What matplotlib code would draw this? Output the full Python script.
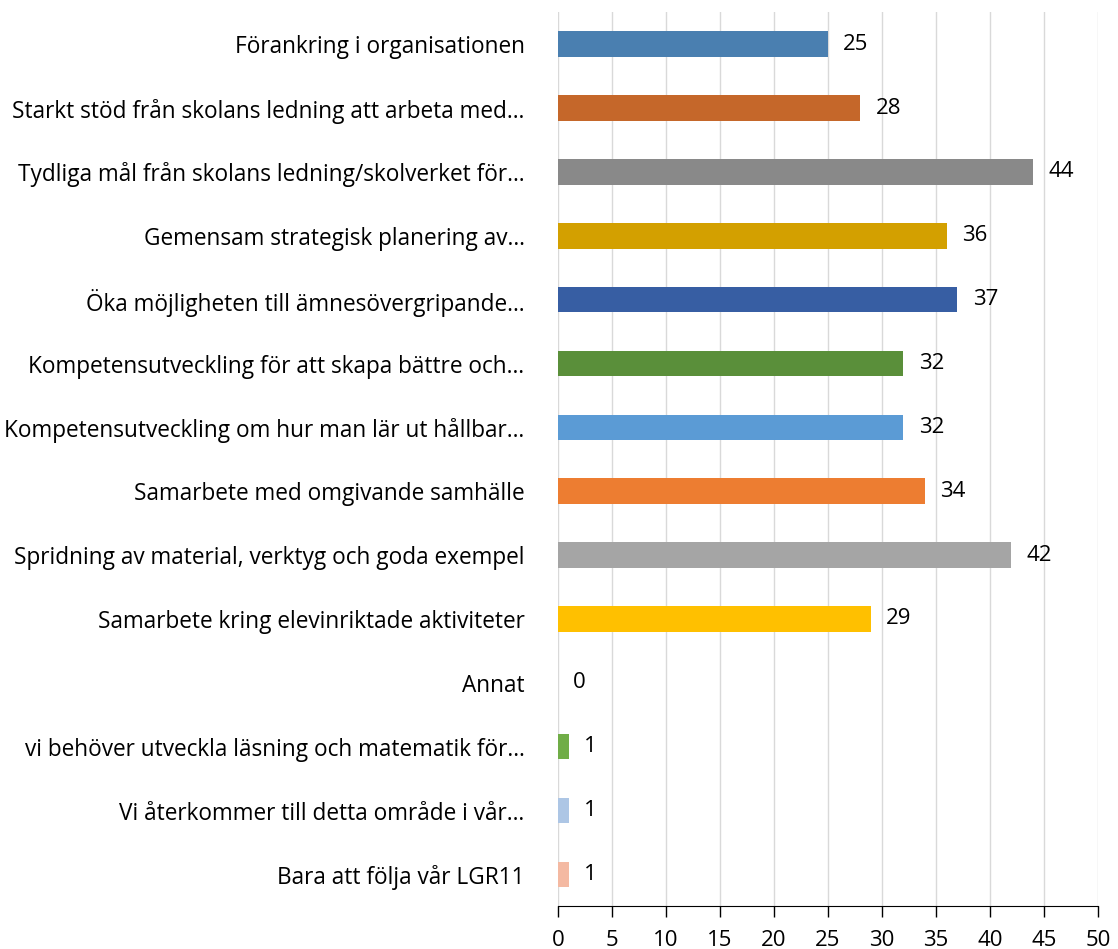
import numpy as np
import matplotlib.pyplot as plt

plt.rcParams['font.family'] = ['Open Sans', 'DejaVu Sans']

categories = [
    "Förankring i organisationen",
    "Starkt stöd från skolans ledning att arbeta med…",
    "Tydliga mål från skolans ledning/skolverket för…",
    "Gemensam strategisk planering av…",
    "Öka möjligheten till ämnesövergripande…",
    "Kompetensutveckling för att skapa bättre och…",
    "Kompetensutveckling om hur man lär ut hållbar…",
    "Samarbete med omgivande samhälle",
    "Spridning av material, verktyg och goda exempel",
    "Samarbete kring elevinriktade aktiviteter",
    "Annat",
    "vi behöver utveckla läsning och matematik för…",
    "Vi återkommer till detta område i vår…",
    "Bara att följa vår LGR11",
]
values = [25, 28, 44, 36, 37, 32, 32, 34, 42, 29, 0, 1, 1, 1]
colors = ['#4A7FB0', '#C5672A', '#898989', '#D3A000', '#375EA3', '#5A8F3A',
          '#5B9BD5', '#ED7D31', '#A5A5A5', '#FFC000', '#4472C4', '#70AD47',
          '#ADC6E5', '#F4B9A2']

fig = plt.figure(figsize=(11.18, 9.49), dpi=100)
ax = fig.add_axes([0.499, 0.045, 0.483, 0.942])

y = np.arange(len(categories))
ax.barh(y, values, height=0.4, color=colors, zorder=3)
for yi, v in zip(y, values):
    ax.text(v + 1.4, yi, str(v), va='center', ha='left', fontsize=16, color='black')

ax.set_yticks(y)
ax.set_yticklabels(categories, fontsize=16.3)
ax.set_ylim(len(categories) - 0.5, -0.5)
ax.set_xlim(0, 50)
ax.set_xticks(np.arange(0, 51, 5))
ax.tick_params(axis='x', labelsize=16, length=8, width=1, color='black', pad=9)
ax.tick_params(axis='y', length=0, pad=24)
ax.grid(axis='x', color='#D9D9D9', linewidth=1, zorder=0)
for s in ['top', 'right', 'left']:
    ax.spines[s].set_visible(False)
ax.spines['bottom'].set_color('black')

plt.savefig('out.png', dpi=100)
